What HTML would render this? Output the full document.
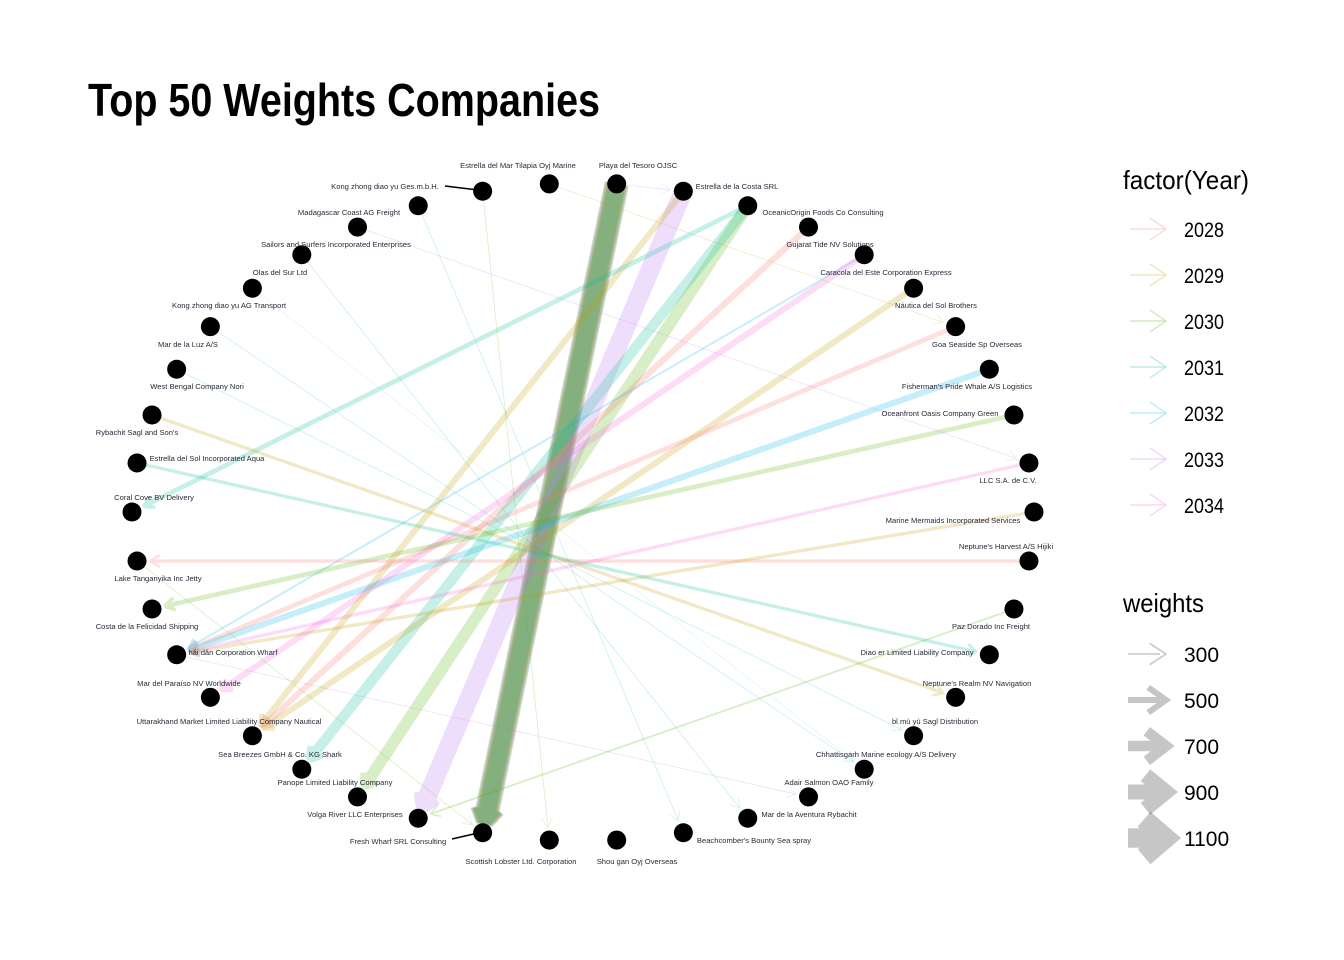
<!DOCTYPE html>
<html><head><meta charset="utf-8"><style>
html,body{margin:0;padding:0;background:#fff;}
svg{display:block;font-family:"Liberation Sans","Noto Sans CJK SC",sans-serif;}
</style></head><body>
<svg id="chart" width="1344" height="960" viewBox="0 0 1344 960">
<rect width="1344" height="960" fill="#fff"/>
<text x="88" y="116" font-size="46" font-weight="bold" textLength="512" lengthAdjust="spacingAndGlyphs" fill="#000">Top 50 Weights Companies</text>
<g id="edges"></g>
<g id="nodes"></g>
<g id="labels"></g>
<g id="legend"></g>
</svg>
<script>
const nodeNames = ["Playa del Tesoro OJSC","Estrella de la Costa SRL","OceanicOrigin Foods Co Consulting","Gujarat  Tide NV Solutions","Caracola del Este Corporation Express","Náutica del Sol Brothers","Goa  Seaside Sp Overseas","Fisherman's Pride Whale A/S Logistics","Oceanfront Oasis Company Green","LLC S.A. de C.V.","Marine Mermaids Incorporated Services","Neptune's Harvest A/S Hijiki","Paz Dorado Inc Freight","Diao er  Limited Liability Company","Neptune's Realm NV Navigation","bǐ mù yú Sagl Distribution","Chhattisgarh  Marine ecology A/S Delivery","Adair Salmon OAO Family","Mar de la Aventura Rybachit","Beachcomber's Bounty Sea spray","Shou gan  Oyj Overseas","Scottish Lobster Ltd. Corporation","Fresh Wharf SRL Consulting","Volga River LLC Enterprises","Panope Limited Liability Company","Sea Breezes GmbH & Co. KG Shark","Uttarakhand  Market Limited Liability Company Nautical","Mar del Paraíso NV Worldwide","hǎi dǎn Corporation Wharf","Costa de la Felicidad Shipping","Lake Tanganyika  Inc Jetty","Coral Cove BV Delivery","Estrella del Sol Incorporated Aqua","Rybachit Sagl and Son's","West Bengal  Company Nori","Mar de la Luz A/S","Kong zhong diao yu  AG Transport","Olas del Sur Ltd","Sailors and Surfers Incorporated Enterprises","Madagascar Coast  AG Freight","Kong zhong diao yu  Ges.m.b.H.","Estrella del Mar Tilapia Oyj Marine"];
const labelX = [638,737,823,830,886,936,977,967,940,1008,953,1006,991,917,977,935,886,829,809,754,637,521,398,355,335,280,229,189,233,147,158,154,207,137,197,188,229,280,336,349,385,518];
const labelY = [168,189,215,247,275,308,347,389,416,483,523,549,629,655,686,724,757,785,817,843,864,864,844,817,785,757,724,686,655,629,581,500,461,435,389,347,308,275,247,215,189,168];
const edgeFrom   = [0,0,0,0,0,0,0,1,1,2,2,2,3,4,4,5,6,7,8,9,10,11,12,32,33,34,35,36,28,37,39,40,38,41,30,0];
const edgeTo     = [22,22,22,22,22,22,22,23,26,24,25,31,26,28,27,26,28,28,29,28,28,30,23,13,14,15,16,16,17,18,19,21,9,6,22,1];
const edgeYear   = [2033,2034,2028,2032,2029,2031,2030,2033,2029,2030,2031,2031,2028,2032,2034,2029,2028,2032,2030,2034,2029,2028,2030,2031,2029,2031,2032,2031,2033,2031,2031,2030,2033,2029,2030,2033];
const edgeWeight = [900,1000,1100,800,1000,1100,900,900,450,650,600,400,450,300,450,450,400,450,400,350,350,350,300,350,350,260,260,250,260,260,260,260,260,260,260,260];
const years = [2028,2029,2030,2031,2032,2033,2034];
const yearColors = ["#F8766D","#C49A00","#53B400","#00C094","#00B6EB","#B46EF0","#FB61D7"];
const weightTicks = [300,500,700,900,1100];

const NS="http://www.w3.org/2000/svg";
const cx=583, cy=512, rx=451, ry=329, N=nodeNames.length;
function nodeXY(i){const a=(4.2857+i*360/N)*Math.PI/180;return [cx+rx*Math.sin(a), cy-ry*Math.cos(a)];}
function widthOf(w){return 0.5+(w-250)/850*24;}
function colorOf(y){return yearColors[years.indexOf(y)];}
function mk(tag,attrs,parent){const e=document.createElementNS(NS,tag);for(const k in attrs)e.setAttribute(k,attrs[k]);parent.appendChild(e);return e;}

const gE=document.getElementById('edges');
for(let k=0;k<edgeFrom.length;k++){
  const [x1,y1]=nodeXY(edgeFrom[k]); const [x2,y2]=nodeXY(edgeTo[k]);
  const dx=x2-x1, dy=y2-y1, L=Math.hypot(dx,dy), ux=dx/L, uy=dy/L;
  const ex=x2-ux*13, ey=y2-uy*13;
  const w=widthOf(edgeWeight[k]); const c=colorOf(edgeYear[k]);
  const g=mk('g',{opacity:0.22},gE);
  
  
  mk('line',{x1:x1,y1:y1,x2:ex,y2:ey,stroke:c,'stroke-width':w},g);
  const al=9+w*0.2, ang=0.55;
  const bx=ex-ux*al, by=ey-uy*al;
  const px=-uy, py=ux, h=al*Math.tan(ang);
  mk('polyline',{points:`${bx+px*h},${by+py*h} ${ex},${ey} ${bx-px*h},${by-py*h}`,fill:'none',stroke:c,'stroke-width':w*0.8,'stroke-linejoin':'bevel'},g);
}
const gN=document.getElementById('nodes'), gL=document.getElementById('labels');
for(let i=0;i<N;i++){
  const [x,y]=nodeXY(i);
  const c=mk('circle',{cx:x,cy:y,r:9.5,fill:'#000'},gN);
  
  
  const t=mk('text',{x:labelX[i],y:labelY[i],'font-size':7.6,'text-anchor':'middle',fill:'#2a2a3a'},gL);
  t.textContent=nodeNames[i];
  
  
}
const l1=mk('line',{x1:445,y1:186,x2:478,y2:190,stroke:'#000','stroke-width':1.5},gL);


const l2=mk('line',{x1:452,y1:839,x2:478,y2:833,stroke:'#000','stroke-width':1.5},gL);



const gLeg=document.getElementById('legend');
const t1=mk('text',{x:1123,y:189,'font-size':26,textLength:126,lengthAdjust:'spacingAndGlyphs',fill:'#000'},gLeg);
t1.textContent='factor(Year)';


for(let i=0;i<years.length;i++){
  const y=229+i*46;
  const g=mk('g',{opacity:0.3},gLeg);
  
  
  mk('line',{x1:1130,y1:y,x2:1166,y2:y,stroke:yearColors[i],'stroke-width':1.2},g);
  mk('polyline',{points:`1150,${y-11} 1166,${y} 1150,${y+11}`,fill:'none',stroke:yearColors[i],'stroke-width':1.2},g);
  const t=mk('text',{x:1184,y:y+8,'font-size':21,textLength:40,lengthAdjust:'spacingAndGlyphs',fill:'#000'},gLeg);
  t.textContent=years[i];
  
  
}
const t2=mk('text',{x:1123,y:612,'font-size':26,textLength:81,lengthAdjust:'spacingAndGlyphs',fill:'#000'},gLeg);
t2.textContent='weights';


for(let i=0;i<weightTicks.length;i++){
  const y=654+i*46; const w=widthOf(weightTicks[i])*0.8;
  const g=mk('g',{opacity:0.22},gLeg);
  
  
  const h=10+w*0.45;
  mk('line',{x1:1128,y1:y,x2:1160,y2:y,stroke:'#000','stroke-width':w},g);
  mk('polyline',{points:`${1150-w*0.3},${y-h} 1166,${y} ${1150-w*0.3},${y+h}`,fill:'none',stroke:'#000','stroke-width':w},g);
  const t=mk('text',{x:1184,y:y+8,'font-size':21,fill:'#000'},gLeg);
  t.textContent=weightTicks[i];
  
  
}
</script>
</body></html>
